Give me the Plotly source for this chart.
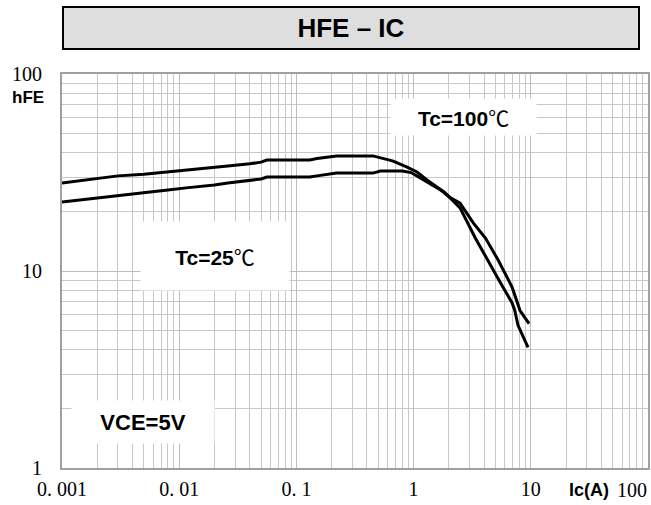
import plotly.graph_objects as go

# ---- data ----
ic_tc100 = [0.001, 0.002, 0.003, 0.005, 0.008, 0.012, 0.02, 0.026, 0.04, 0.05, 0.056,
            0.13, 0.15, 0.22, 0.45, 0.67, 0.88, 1.07, 1.3, 1.68, 2.05, 2.49, 3.36,
            4.31, 5.46, 6.91, 7.3, 7.78, 9.47]
hfe_tc100 = [28.0, 29.5, 30.4, 31.0, 31.8, 32.5, 33.5, 34.1, 35.0, 35.7, 36.6,
             36.6, 37.2, 38.4, 38.4, 36.1, 33.7, 31.8, 29.0, 26.0, 23.5, 20.9, 14.7,
             11.4, 8.8, 6.9, 6.3, 5.3, 4.1]

ic_tc25 = [0.001, 0.002, 0.003, 0.005, 0.008, 0.012, 0.02, 0.026, 0.04, 0.05, 0.056,
           0.13, 0.15, 0.22, 0.45, 0.52, 0.8, 0.95, 1.15, 1.5, 1.8, 2.05, 2.49, 3.24,
           4.1, 5.25, 6.91, 8.09, 8.93, 9.66]
hfe_tc25 = [22.4, 23.5, 24.3, 25.0, 25.8, 26.5, 27.3, 28.0, 28.7, 29.3, 30.0,
            30.0, 30.4, 31.4, 31.4, 32.2, 32.2, 31.6, 29.6, 27.0, 25.3, 23.6, 22.1, 17.5,
            14.7, 11.4, 8.3, 6.3, 5.8, 5.4]

x_tickvals = [0.001, 0.01, 0.1, 1, 10, 100]
x_ticktext = ["0. 001", "0. 01", "0. 1", "1", "10", ""]
y_tickvals = [1, 10, 100]
y_ticktext = ["1", "10", "100"]

x_minor = [m * 10 ** e for e in range(-3, 2) for m in range(2, 10)]
y_minor = [m * 10 ** e for e in range(0, 2) for m in range(2, 10)]

SERIF = "Liberation Serif, Times New Roman, serif"
SANS = "Liberation Sans, Arial, sans-serif"
DEG = "<span style='font-family:Noto Sans CJK JP;font-weight:normal'>℃</span>"

fig = go.Figure()
fig.add_trace(go.Scatter(x=ic_tc100, y=hfe_tc100, mode="lines",
                         line=dict(color="black", width=3), name="Tc=100℃"))
fig.add_trace(go.Scatter(x=ic_tc25, y=hfe_tc25, mode="lines",
                         line=dict(color="black", width=3), name="Tc=25℃"))

grid = "#c8c8c8"
fig.update_xaxes(type="log", range=[-3, 2], tickvals=x_tickvals, ticktext=x_ticktext,
                 showgrid=True, gridcolor="#bdbdbd", gridwidth=1,
                 minor=dict(tickvals=x_minor, showgrid=True, gridcolor=grid, gridwidth=1, ticks=""),
                 showline=True, linecolor="#a0a0a0", linewidth=2, mirror=True,
                 ticks="", zeroline=False, automargin=False,
                 tickfont=dict(family=SERIF, size=20, color="black"),
                 ticklabelstandoff=2)
fig.update_yaxes(type="log", range=[0, 2], tickvals=y_tickvals, ticktext=y_ticktext,
                 showgrid=True, gridcolor="#bdbdbd", gridwidth=1,
                 minor=dict(tickvals=y_minor, showgrid=True, gridcolor=grid, gridwidth=1, ticks=""),
                 showline=True, linecolor="#a0a0a0", linewidth=2, mirror=True,
                 ticks="", zeroline=False, automargin=False,
                 tickfont=dict(family=SERIF, size=20, color="black"),
                 ticklabelstandoff=14)

W, H = 651, 505
L, R, T, B = 62, 3, 74, 37
pw, ph = W - L - R, H - T - B


def px(xp):
    return (xp - L) / pw


def py(yp):
    return (H - B - yp) / ph


annots = [
    # title box
    dict(x=px(351), y=py(28), text="<b>HFE – IC</b>", font=dict(family=SANS, size=26, color="black"),
         bgcolor="#dedede", bordercolor="black", borderwidth=2, borderpad=0,
         width=574, height=40),
    dict(x=px(28), y=py(98), text="<b>hFE</b>", font=dict(family=SANS, size=17, color="black")),
    dict(x=px(611), y=py(490), xanchor="right", text="<b>Ic(A)</b>",
         font=dict(family=SANS, size=18, color="black")),
    dict(x=px(649), y=py(490), xanchor="right", text="100",
         font=dict(family=SERIF, size=20, color="black")),
    dict(x=px(463), y=py(117), text="<b>Tc=100</b>" + DEG, font=dict(family=SANS, size=21, color="black"),
         bgcolor="white", width=143, height=34),
    dict(x=px(215), y=py(256), text="<b>Tc=25</b>" + DEG, font=dict(family=SANS, size=21, color="black"),
         bgcolor="white", width=146, height=66),
    dict(x=px(143), y=py(422), text="<b>VCE=5V</b>", font=dict(family=SANS, size=22, color="black"),
         bgcolor="white", width=140, height=40),
]
for a in annots:
    a.setdefault("xref", "paper")
    a.setdefault("yref", "paper")
    a.setdefault("showarrow", False)
    a.setdefault("xanchor", "center")
    a.setdefault("yanchor", "middle")
    fig.add_annotation(**a)

fig.update_layout(width=W, height=H, margin=dict(l=L, r=R, t=T, b=B),
                  paper_bgcolor="white", plot_bgcolor="white", showlegend=False)

fig.write_html("out.html", config={"displayModeBar": False, "staticPlot": True},
               post_script="document.body.style.margin='0';document.body.style.overflow='hidden';")
